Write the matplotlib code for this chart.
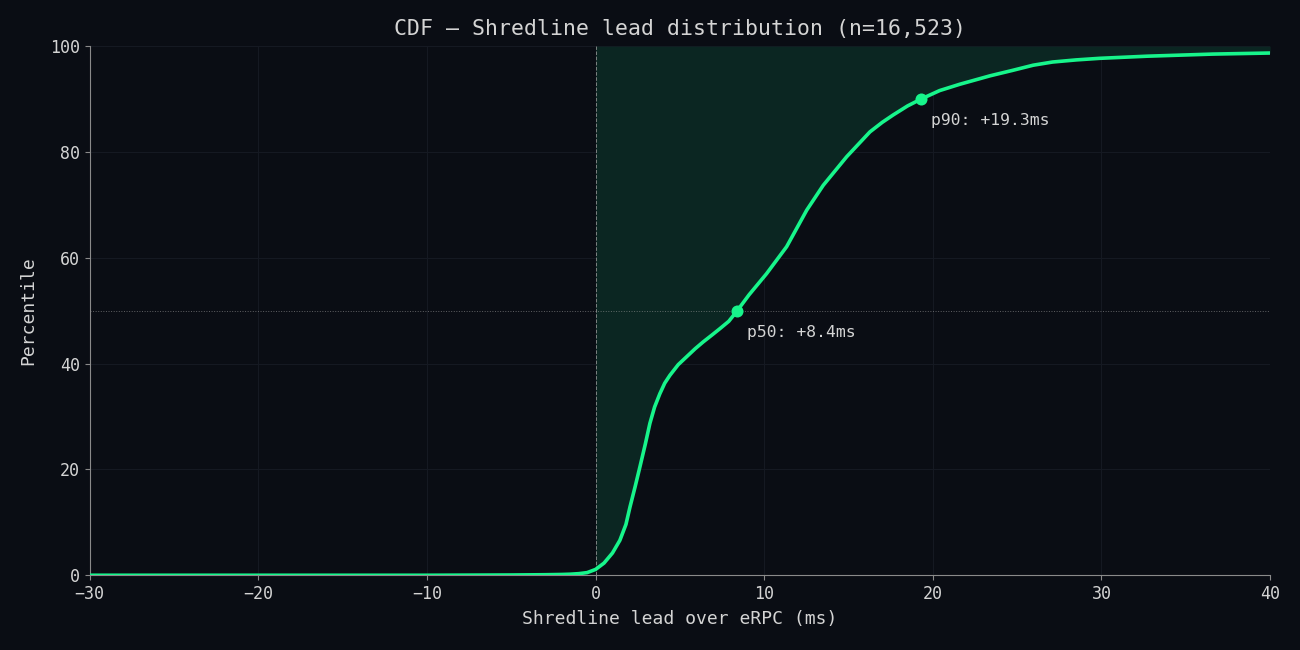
import matplotlib
matplotlib.use("Agg")
import matplotlib.pyplot as plt
import numpy as np

plt.rcParams['font.family'] = ['DejaVu Sans Mono']

lead_ms = [-30, -20, -10, -5, -3, -2, -1.5, -1, -0.5, 0.0, 0.5, 1.0, 1.44, 1.8, 2.04, 2.35, 2.63, 2.95,
           3.22, 3.5, 3.81, 4.1, 4.41, 4.9, 5.4, 5.9, 6.38, 6.9, 7.37, 7.9, 8.4, 9.1, 10.14, 11.33,
           12.52, 13.5, 14.89, 16.27, 17.0, 17.65, 18.5, 19.3, 20.4, 21.6, 22.5, 23.4, 24.7, 25.95,
           27.1, 28.5, 29.9, 32.7, 36.6, 40.0]
percentile = [0.0, 0.0, 0.0, 0.05, 0.1, 0.15, 0.2, 0.3, 0.5, 1.1, 2.3, 4.2, 6.6, 9.6, 12.9, 16.8, 20.5,
              24.8, 28.7, 31.8, 34.3, 36.3, 37.8, 39.8, 41.3, 42.8, 44.1, 45.4, 46.6, 48.0, 50.0,
              53.0, 57.0, 62.1, 69.0, 73.7, 79.1, 83.8, 85.6, 87.0, 88.7, 90.0, 91.6, 92.8, 93.6, 94.4,
              95.4, 96.4, 97.0, 97.4, 97.7, 98.1, 98.5, 98.7]
marker_x = [8.4, 19.3]
marker_y = [50, 90]
marker_labels = ["p50: +8.4ms", "p90: +19.3ms"]

bg = '#0a0d14'
green = '#17f58b'
txt = '#d4d4d4'

fig, ax = plt.subplots(figsize=(13, 6.5), dpi=100)
fig.patch.set_facecolor(bg)
ax.set_facecolor(bg)
fig.subplots_adjust(left=0.069, right=0.977, top=0.929, bottom=0.115)

x = np.array(lead_ms)
y = np.array(percentile)
ax.fill_between(x, y, 100, where=x >= 0, color='#0b2622', linewidth=0, interpolate=True, zorder=1)
ax.plot(x, y, color=green, linewidth=2.6, zorder=3)
ax.scatter(marker_x, marker_y, s=75, color=green, zorder=4, linewidths=0)
for mx, my, lab in zip(marker_x, marker_y, marker_labels):
    ax.annotate(lab, (mx, my), xytext=(7, -10), textcoords='offset points',
                color=txt, fontsize=11.8, va='top', ha='left')

ax.axvline(0, color='#9a9a9a', linestyle='--', linewidth=0.7, alpha=0.8, zorder=2)
ax.axhline(50, color='#9a9a9a', linestyle=':', linewidth=0.7, alpha=0.6, zorder=2)

ax.set_xlim(-30, 40)
ax.set_ylim(0, 100)
ax.set_xticks([-30, -20, -10, 0, 10, 20, 30, 40])
ax.set_yticks([0, 20, 40, 60, 80, 100])
ax.grid(True, color='#151922', linewidth=0.8, zorder=0)
ax.set_axisbelow(True)

for s in ['top', 'right']:
    ax.spines[s].set_visible(False)
for s in ['left', 'bottom']:
    ax.spines[s].set_color('#8a8a8a')
ax.tick_params(colors=txt, labelsize=12, color='#8a8a8a')

ax.set_xlabel('Shredline lead over eRPC (ms)', color=txt, fontsize=13, labelpad=5)
ax.set_ylabel('Percentile', color=txt, fontsize=13, labelpad=9)
ax.set_title('CDF — Shredline lead distribution (n=16,523)', color=txt, fontsize=15.5, pad=8)

fig.savefig('out.png', facecolor=bg)
